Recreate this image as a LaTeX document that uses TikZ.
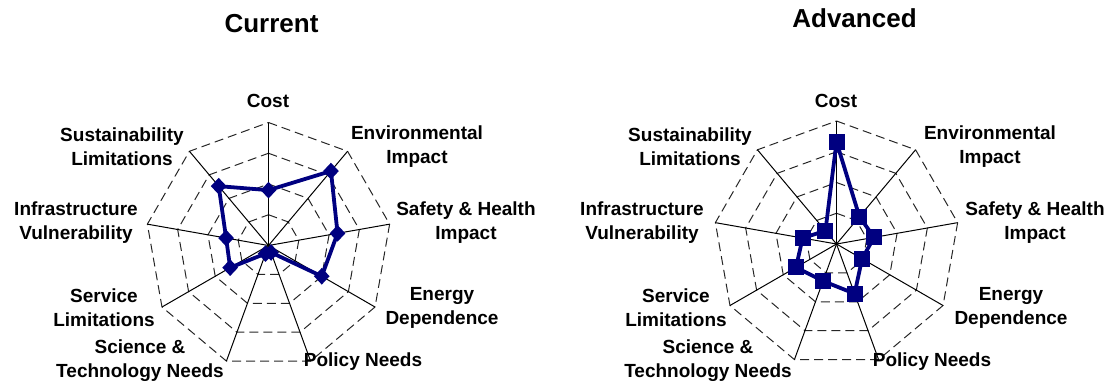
\documentclass[tikz,border=0pt]{standalone}
\usepackage{fontspec}
\setmainfont{Liberation Sans}
\usetikzlibrary{shapes.geometric, positioning}
\definecolor{navyblue}{RGB}{0,0,128}
\tikzset{
	spoke/.style={draw, black, line width=0.5pt},
	ring/.style={draw, black!85, line width=0.5pt, dash pattern=on 4.5pt off 2.5pt},
	series/.style={draw, navyblue, line width=1.9pt, line join=round},
	diam/.style={diamond, fill=navyblue, inner sep=0pt, minimum width=8pt, minimum height=8.5pt},
	sqmark/.style={rectangle, fill=navyblue, inner sep=0pt, minimum size=8pt},
	axlab/.style={font=\bfseries\fontsize{9.5}{12}\selectfont, align=center, inner sep=0pt},
	% chart titles
	ttl/.style={font=\bfseries\fontsize{13}{15}\selectfont, inner sep=0pt}
}

\begin{document}
\begin{tikzpicture}[x=0.5pt, y=0.5pt]
			\useasboundingbox (0,0) rectangle (1112,388);
			
			\node (tcur) [ttl] at (271.5,364) {Current};
			\node (tadv) [ttl] at (854.5,369.5) {Advanced};
			
			% current
			\begin{scope}[shift={(268.5,142.5)}]
				\foreach \k in {1,...,4}
					\draw[ring] (90:\k*30.75) \foreach \i in {1,...,8} { -- (90-\i*40:\k*30.75) } -- cycle;
				\foreach \i in {0,...,8}
					\draw[spoke] (0,0) -- (90-\i*40:123);
				\foreach \v [count=\i from 0] in {.45,.79,.57,.5,.06,.07,.36,.35,.63}
					\coordinate (cur\i) at (90-\i*40:\v*123);
			\end{scope}
			\draw[series] (cur0) -- (cur1) -- (cur2) -- (cur3) -- (cur4) -- (cur5) -- (cur6) -- (cur7) -- (cur8) -- cycle;
			\foreach \i in {0,...,8}
				\node (curm\i) [diam] at (cur\i) {};
			
			\node (lcost) [axlab] at (268,287) {Cost};
			\node (lenv) [axlab] at (417,241) {Environmental\\Impact};
			\node (lsafe) [axlab] at (466,165) {Safety \& Health\\Impact};
			\node (lenergy) [axlab] at (442,80) {Energy\\Dependence};
			\node (lpolicy) [axlab] at (363,26) {Policy Needs};
			\node (lsci) [axlab] at (140,27) {Science \&\\Technology Needs};
			\node (lserv) [axlab] at (104,80) {Service\\Limitations};
			\node (linfra) [axlab] at (76,165) {Infrastructure\\Vulnerability};
			\node (lsust) [axlab] at (122,241) {Sustainability\\Limitations};
			
			% advanced
			\begin{scope}[shift={(836.5,144)}]
				\foreach \k in {1,...,4}
					\draw[ring] (90:\k*30.75) \foreach \i in {1,...,8} { -- (90-\i*40:\k*30.75) } -- cycle;
				\foreach \i in {0,...,8}
					\draw[spoke] (0,0) -- (90-\i*40:123);
				\foreach \v [count=\i from 0] in {.83,.29,.31,.24,.43,.32,.38,.28,.14}
					\coordinate (adv\i) at (90-\i*40:\v*123);
			\end{scope}
			\draw[series] (adv0) -- (adv1) -- (adv2) -- (adv3) -- (adv4) -- (adv5) -- (adv6) -- (adv7) -- (adv8) -- cycle;
			\foreach \i in {0,...,8}
				\node (advm\i) [sqmark] at (adv\i) {};
			
			\node (rcost) [axlab] at (836,287) {Cost};
			\node (renv) [axlab] at (990,241) {Environmental\\Impact};
			\node (rsafe) [axlab] at (1035,165) {Safety \& Health\\Impact};
			\node (renergy) [axlab] at (1011,80) {Energy\\Dependence};
			\node (rpolicy) [axlab] at (932,26) {Policy Needs};
			\node (rsci) [axlab] at (708,27) {Science \&\\Technology Needs};
			\node (rserv) [axlab] at (676,80) {Service\\Limitations};
			\node (rinfra) [axlab] at (642,165) {Infrastructure\\Vulnerability};
			\node (rsust) [axlab] at (690,241) {Sustainability\\Limitations};
		\end{tikzpicture}
\end{document}
